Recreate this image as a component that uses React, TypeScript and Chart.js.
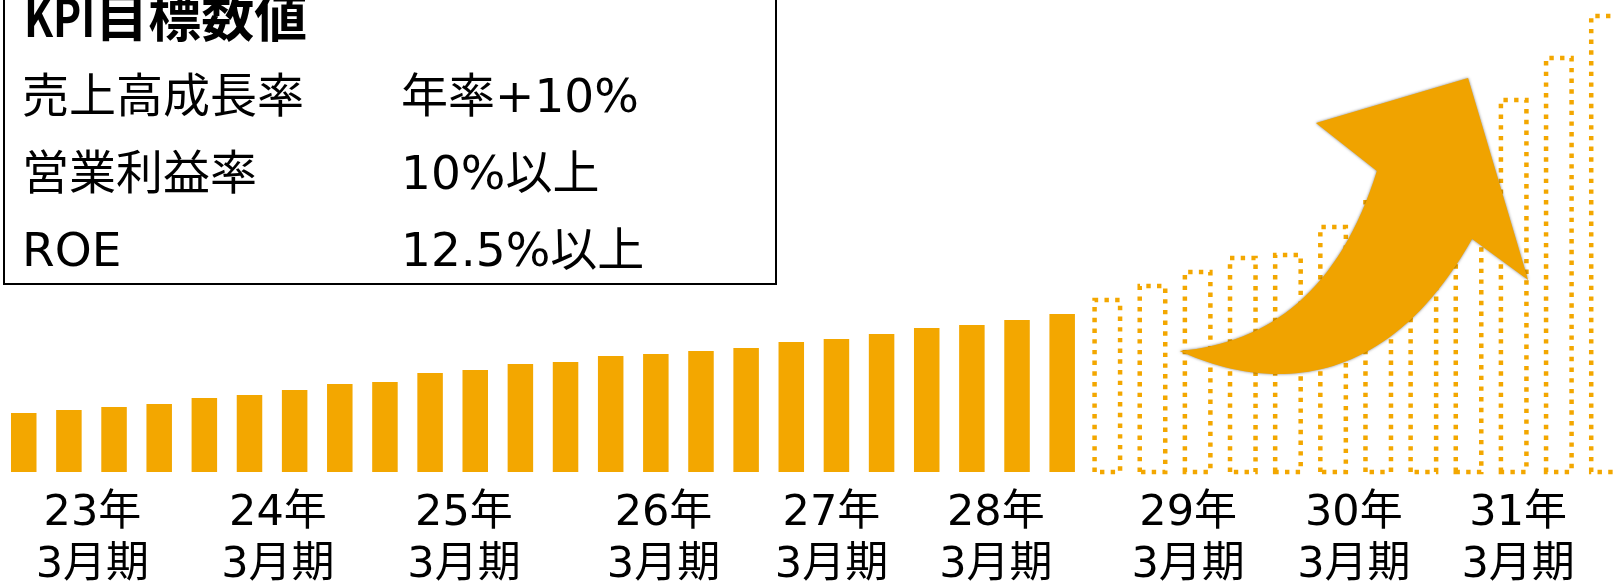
import React, { useEffect, useRef } from "react";
import { Chart, registerables } from "chart.js";

Chart.register(...registerables);

// ---- data ----
const periodLabels: string[][] = [
  ["23年", "3月期"],
  ["24年", "3月期"],
  ["25年", "3月期"],
  ["26年", "3月期"],
  ["27年", "3月期"],
  ["28年", "3月期"],
  ["29年", "3月期"],
  ["30年", "3月期"],
  ["31年", "3月期"],
];
// position of each period label along the bar index axis
const labelPositions = [1.52, 5.63, 9.75, 14.17, 17.89, 21.53, 25.79, 29.46, 33.1];

// actual results (solid bars)
const actualValues = [
  59, 62, 65, 68, 74, 77, 82, 88, 90, 99, 102, 108, 110, 116, 118, 121, 124, 130,
  133, 138, 144, 147, 152, 158,
];
// plan (dotted bars)
const targetValues = [172, 186, 200, 214, 217, 245, 273, 305, 335, 372, 414, 456];

const kpiTitleLatin = "KPI";
const kpiTitleJa = "目標数値";
const kpiNames = ["売上高成長率", "営業利益率", "ROE"];
const kpiTargets = ["年率+10%", "10%以上", "12.5%以上"];

// decorative growth arrow, in data space (x: bar index, y: value)
const arrowTail = [25.6, 121];
const arrowUpperCtrl1 = [27.6, 129];
const arrowUpperCtrl2 = [29.15, 182];
const arrowUpperEnd = [29.97, 301];
const arrowLeftBarb = [28.62, 349];
const arrowTip = [31.99, 394];
const arrowRightBarb = [33.32, 192];
const arrowNotch = [32.08, 233];
const arrowLowerCtrl2 = [30.0, 66];
const arrowLowerCtrl1 = [27.2, 88];

const ORANGE = "#F3A700";
const ARROW = "#F0A300";
const X_MIN = -0.526;
const X_MAX = 35.2;
const Y_MAX = 472;

const dottedBarsPlugin = {
  id: "dottedBars",
  afterDatasetsDraw(chart: any) {
    const meta = chart.getDatasetMeta(1);
    const ctx = chart.ctx;
    ctx.save();
    ctx.strokeStyle = ORANGE;
    ctx.lineWidth = 4.5;
    ctx.setLineDash([4.4, 6.3]);
    ctx.lineCap = "butt";
    meta.data.forEach((bar: any) => {
      const { x, y, base, width } = bar.getProps(["x", "y", "base", "width"], true);
      const l = x - width / 2;
      const r = x + width / 2;
      ctx.beginPath();
      ctx.moveTo(l, base);
      ctx.lineTo(l, y);
      ctx.lineTo(r, y);
      ctx.lineTo(r, base);
      ctx.closePath();
      ctx.stroke();
    });
    ctx.restore();
  },
};

const arrowPlugin = {
  id: "growthArrow",
  afterDraw(chart: any) {
    const xs = chart.scales.x;
    const ys = chart.scales.y;
    const p = (pt: number[]) => [xs.getPixelForValue(pt[0]), ys.getPixelForValue(pt[1])];
    const t = p(arrowTail);
    const u1 = p(arrowUpperCtrl1);
    const u2 = p(arrowUpperCtrl2);
    const ue = p(arrowUpperEnd);
    const lb = p(arrowLeftBarb);
    const tip = p(arrowTip);
    const rb = p(arrowRightBarb);
    const n = p(arrowNotch);
    const l2 = p(arrowLowerCtrl2);
    const l1 = p(arrowLowerCtrl1);
    const ctx = chart.ctx;
    ctx.save();
    ctx.beginPath();
    ctx.moveTo(t[0], t[1]);
    ctx.bezierCurveTo(u1[0], u1[1], u2[0], u2[1], ue[0], ue[1]);
    ctx.lineTo(lb[0], lb[1]);
    ctx.lineTo(tip[0], tip[1]);
    ctx.lineTo(rb[0], rb[1]);
    ctx.lineTo(n[0], n[1]);
    ctx.bezierCurveTo(l2[0], l2[1], l1[0], l1[1], t[0], t[1]);
    ctx.closePath();
    ctx.shadowColor = "rgba(0,0,0,0.5)";
    ctx.shadowBlur = 3;
    ctx.fillStyle = ARROW;
    ctx.fill();
    ctx.restore();
  },
};

export default function App() {
  const canvasRef = useRef<HTMLCanvasElement | null>(null);

  useEffect(() => {
    document.body.style.margin = "0";
    const canvas = canvasRef.current;
    if (!canvas) return;
    const chart = new Chart(canvas, {
      type: "bar",
      data: {
        datasets: [
          {
            label: "実績",
            data: actualValues.map((v, i) => ({ x: i, y: v })),
            backgroundColor: ORANGE,
            borderWidth: 0,
            grouped: false,
            barPercentage: 0.565,
            categoryPercentage: 1,
          } as any,
          {
            label: "計画",
            data: targetValues.map((v, i) => ({ x: actualValues.length + i, y: v })),
            backgroundColor: "rgba(0,0,0,0)",
            borderWidth: 0,
            grouped: false,
            barPercentage: 0.565,
            categoryPercentage: 1,
          } as any,
        ],
      },
      options: {
        animation: false,
        responsive: false,
        maintainAspectRatio: false,
        layout: { padding: 0 },
        plugins: {
          legend: { display: false },
          tooltip: { enabled: false },
          title: { display: false },
        },
        scales: {
          x: {
            type: "linear",
            min: X_MIN,
            max: X_MAX,
            offset: false,
            grid: { display: false, drawTicks: false },
            border: { display: false },
            afterBuildTicks: (scale: any) => {
              scale.ticks = labelPositions.map((v) => ({ value: v }));
            },
            afterFit: (scale: any) => {
              scale.height = 113;
            },
            ticks: {
              autoSkip: false,
              maxRotation: 0,
              padding: 16,
              color: "#000",
              font: { family: '"DejaVu Sans", "Noto Sans CJK JP"', size: 43, lineHeight: 1.21 },
              callback: (_v: any, i: number) => periodLabels[i],
            },
          },
          y: {
            display: false,
            min: 0,
            max: Y_MAX,
          },
        },
      } as any,
      plugins: [dottedBarsPlugin, arrowPlugin],
    });
    return () => chart.destroy();
  }, []);

  const bodyFont = '"DejaVu Sans", "Noto Sans CJK JP", sans-serif';
  const rowTops = [72, 149, 226];

  return (
    <div
      style={{
        position: "fixed",
        left: 0,
        top: 0,
        width: 1613,
        height: 585,
        overflow: "hidden",
        background: "#fff",
      }}
    >
      <canvas ref={canvasRef} width={1613} height={585} style={{ position: "absolute", left: 0, top: 0 }} />
      <div
        style={{
          position: "absolute",
          left: 3,
          top: -20,
          width: 774,
          height: 305,
          border: "2.5px solid #000",
          boxSizing: "border-box",
        }}
      />
      <div
        style={{
          position: "absolute",
          left: 24,
          top: -12,
          fontFamily: '"Noto Sans CJK JP", sans-serif',
          fontWeight: 700,
          fontSize: 53,
          lineHeight: "53px",
          whiteSpace: "nowrap",
          color: "#000",
        }}
      >
        <span
          style={{
            display: "inline-block",
            transform: "scaleX(0.8)",
            transformOrigin: "left center",
            marginRight: -18,
          }}
        >
          {kpiTitleLatin}
        </span>
        {kpiTitleJa}
      </div>
      {kpiNames.map((name, i) => (
        <React.Fragment key={name}>
          <div
            style={{
              position: "absolute",
              left: 22,
              top: rowTops[i],
              fontFamily: bodyFont,
              fontSize: 47,
              lineHeight: "47px",
              whiteSpace: "nowrap",
              color: "#000",
            }}
          >
            {name}
          </div>
          <div
            style={{
              position: "absolute",
              left: 401,
              top: rowTops[i],
              fontFamily: bodyFont,
              fontSize: 47,
              lineHeight: "47px",
              whiteSpace: "nowrap",
              color: "#000",
            }}
          >
            {kpiTargets[i]}
          </div>
        </React.Fragment>
      ))}
    </div>
  );
}
